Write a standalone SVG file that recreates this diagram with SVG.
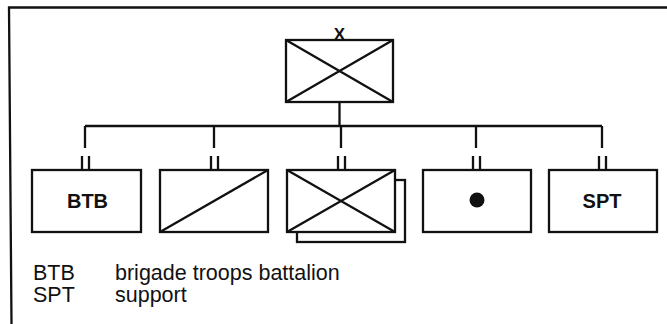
<svg xmlns="http://www.w3.org/2000/svg" width="667" height="324" viewBox="0 0 667 324">
<style>
.b{fill:#fff;stroke:#111;stroke-width:2.3}
.l{stroke:#111;stroke-width:2.3;fill:none}
.t{font-family:"Liberation Sans",Arial,sans-serif;fill:#111}
.bold{font-weight:bold;font-size:20px;text-anchor:middle}
.leg{font-size:21.5px}
</style>
<rect width="667" height="324" fill="#fff"/>
<path class="l" d="M11.5,324 L9,7.5 L667,7.5" stroke-width="2.6"/>
<g id="connectors">
<path class="l" d="M339.5,102 V126 M85,126 H602"/>
<path class="l" d="M85,126 V148 M82,156 V170 M89,156 V170"/>
<path class="l" d="M214,126 V148 M211,156 V170 M218,156 V170"/>
<path class="l" d="M341,126 V148 M338,156 V170 M345,156 V170"/>
<path class="l" d="M476,126 V148 M473,156 V170 M480,156 V170"/>
<path class="l" d="M602,126 V148 M599,156 V170 M606,156 V170"/>
</g>
<g id="hq">
<rect class="b" x="286" y="40" width="107" height="62"/>
<path class="l" d="M286,40 L393,102 M393,40 L286,102"/>
<text class="t" x="339.5" y="40" font-size="17" font-weight="bold" text-anchor="middle">X</text>
</g>
<g id="btb">
<rect class="b" x="32" y="170" width="109" height="62"/>
<text class="t bold" x="87.5" y="207.5">BTB</text>
</g>
<g id="recon">
<rect class="b" x="160" y="170" width="108" height="62"/>
<path class="l" d="M160,232 L268,170"/>
</g>
<g id="infantry">
<rect class="b" x="297" y="180" width="108" height="62"/>
<rect class="b" x="287" y="170" width="108" height="62"/>
<path class="l" d="M287,170 L395,232 M395,170 L287,232"/>
</g>
<g id="artillery">
<rect class="b" x="423" y="170" width="108" height="62"/>
<circle cx="477" cy="200" r="7.5" fill="#111"/>
</g>
<g id="spt">
<rect class="b" x="549" y="170" width="108" height="62"/>
<text class="t bold" x="602" y="208">SPT</text>
</g>
<g id="legend">
<text class="t leg" x="33" y="280">BTB</text>
<text class="t leg" x="115" y="280">brigade troops battalion</text>
<text class="t leg" x="33" y="302">SPT</text>
<text class="t leg" x="115" y="302">support</text>
</g>
</svg>
